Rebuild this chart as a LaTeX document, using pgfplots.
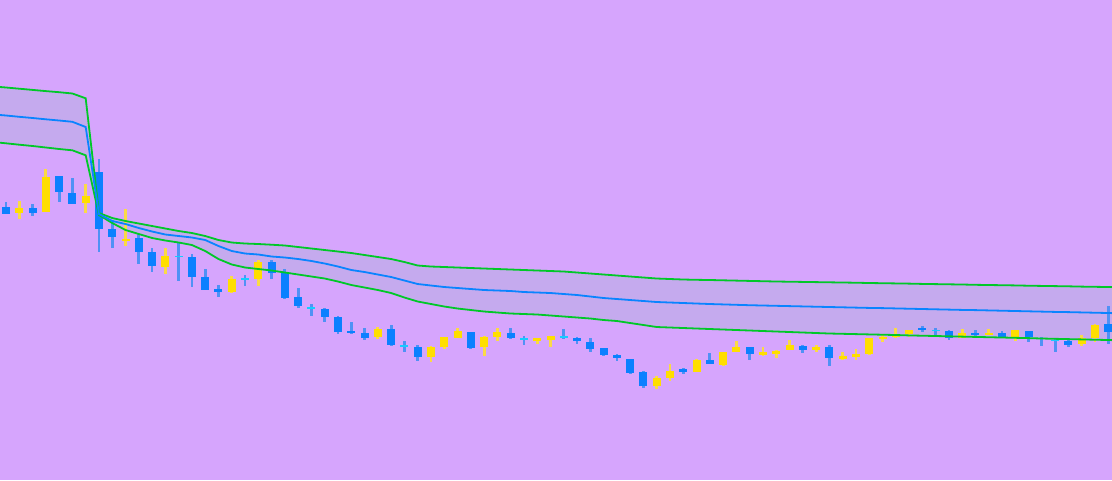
\documentclass[border=0pt]{standalone}
\usepackage{pgfplots}
\pgfplotsset{compat=1.18}
\usepackage{pgfplotstable}
\usepgfplotslibrary{fillbetween}

\definecolor{bg}{RGB}{214,165,253}
\definecolor{bandfill}{RGB}{197,170,238}
\definecolor{bandgreen}{RGB}{0,200,40}
\definecolor{midblue}{RGB}{10,132,255}
\definecolor{candleblue}{RGB}{12,128,255}
\definecolor{wickblue}{RGB}{80,145,245}
\definecolor{candleyellow}{RGB}{255,222,0}
\definecolor{wickyellow}{RGB}{250,218,70}
\definecolor{dojicyan}{RGB}{20,205,255}

% i = bar index, hi/lo = wick ends, bt/bb = body ends (screen units, downward)
\pgfplotstableread{
i hi lo bt bb
0 202 214 207 214
2 204 216 208 213
4 176 202 176 192
5 178 204 193 204
7 159 252 172 229
8 220 248 229 237
10 234 264 238 252
11 248 272 252 266
14 254 287 257 277
15 269 290 277 290
16 285 297 289 291.5
20 260 279 262 273
21 269 299 272 298
22 288 308 297 306
24 308 322 309 317
25 316 334 317 332
26 322 334 331 333
27 328 340 333 338
29 325 346 329 345
31 345 361 347 357
35 332 349 332 348
38 328 339 333 338
43 337 344 338 341
44 338 352 342 349
45 348 356 348 355
46 354 361 355 358
47 359 374 359 373
48 371 388 372 386
51 368 374 369 372
53 353 364 360 364
56 347 360 347 354
60 345 353 346 350
62 345 366 347 358
69 326 332 328 330
71 330 340 331 338
73 330 338 333 335
75 331 338 333 338
77 331 342 331 337
80 339 347 341 345
83 306 344 324 332
}\tblB

\pgfplotstableread{
i hi lo bt bb
13 242 281 256 257
18 275 286 278 280
23 304 316 307 309
30 341 352 345 347
39 336 345 338 340
42 329 339 336 338
70 328 335 330 331
78 337 346 338 339
79 338 352 340 341
}\tblC

\pgfplotstableread{
i hi lo bt bb
1 201 219 208 213
3 169 212 177 212
6 184 213 196 203
9 209 246 239 241
12 248 274 256 267
17 276 293 279 292
19 260 286 262 279
28 327 339 329 337
32 346 362 347 357
33 337 349 337 347
34 328 338 331 338
36 336 356 337 347
37 328 341 332 337
40 338 344 338 341
41 336 347 336 340
49 376 389 378 386
50 364 381 371 378
52 359 372 360 372
54 352 366 352 365
55 341 352 347 352
57 347 356 352 355
58 350 358 351 354
59 340 350 345 350
61 345 352 347 350
63 352 360 356 359
64 349 360 354 357
65 338 355 338 354
66 335 342 337 339
67 328 338 335 337
68 330 337 330 334
72 329 338 333 338
74 329 335 333 335
76 330 341 330 338
81 335 346 338 344
82 324 342 325 338
}\tblY

\pgfplotstableread{
i up mid low
-0.452 87 115 142.7
0 87.5 115.5 143.3
1 88.7 116.8 144.7
2 89.9 118 146
3 91.1 119.3 147.5
4 92.2 120.5 149
5 93.5 121.8 150.3
6 98.3 127 155.3
7 213 214 215
8 218 221 223
9 221 224 230
10 223.5 228 234
11 226 231.5 238
12 228.5 234.5 240.5
13 231 236 242.5
14 233 237.5 245
15 236 240 251
16 240 246 259
17 242.5 251 264.5
18 243.5 253.5 267.5
19 244 254.5 269
20 244.7 256.5 270.5
21 245.5 257.5 272.5
22 247 259 274.5
23 248.5 261 276.5
24 250 263.5 278.5
25 251.5 266.5 281.5
26 253 270 285
27 255 272 287.5
28 257 274.5 290
29 259 277 293
30 262 280.5 297.5
31 265.5 284 301.5
32 266.5 285.5 304
33 267 287 306.5
34 267.5 288 308.5
35 268 289 310
36 268.5 290 311.5
37 269 290.5 312.5
38 269.5 291 313.5
39 270 292 314
40 270.5 292.5 314.5
41 271 293 315.5
42 271.5 294 316.5
43 272.5 295 317.5
44 273.5 296.5 318.5
45 274.5 298 320
46 275.5 299 321
47 276.5 300 323
48 277.5 301 325
49 278.5 302 327
50 279 302.5 327.5
51 279.5 303 328
52 279.8 303.5 328.5
53 280 304 329
54 280.3 304.4 329.5
55 280.6 304.8 330
56 280.9 305.2 330.5
57 281.2 305.5 331
58 281.5 305.8 331.5
59 281.7 306.1 332
60 281.9 306.4 332.5
61 282.1 306.7 333
62 282.3 307 333.5
63 282.5 307.3 333.8
64 282.7 307.6 334.1
65 283.0 307.9 334.4
66 283.2 308.1 334.7
67 283.4 308.4 335.0
68 283.6 308.7 335.4
69 283.9 309.0 335.7
70 284.1 309.3 336.0
71 284.3 309.6 336.3
72 284.5 309.9 336.6
73 284.8 310.1 336.9
74 285.0 310.4 337.2
75 285.2 310.7 337.5
76 285.4 311.0 337.8
77 285.7 311.3 338.1
78 285.9 311.6 338.5
79 286.1 311.9 338.8
80 286.3 312.1 339.1
81 286.6 312.4 339.4
82 286.8 312.7 339.7
83 287.0 313.0 340.0
83.3 287.1 313.1 340.1
}\tblBand

\pgfplotsset{
  wick/.style={draw=none, mark=none, forget plot,
    error bars/.cd, y dir=plus, y explicit, error mark=none,
    error bar style={line width=2.8pt, draw=#1}},
  body/.style={draw=none, mark=none, forget plot,
    error bars/.cd, y dir=plus, y explicit, error mark=none,
    error bar style={line width=8pt, draw=#1}},
}

\begin{document}
\begin{tikzpicture}
\begin{axis}[
  width=1112pt, height=480pt, scale only axis,
  xmin=-0.452, xmax=83.28, ymin=0, ymax=480, y dir=reverse,
  axis lines=none, ticks=none,
  axis background/.style={fill=bg},
  clip=true,
]
% band paths
\addplot[draw=none, name path=U, forget plot] table[x=i, y=up] {\tblBand};
\addplot[draw=none, name path=L, forget plot] table[x=i, y=low] {\tblBand};
\addplot[bandfill, forget plot] fill between[of=U and L];

% wicks
\addplot[wick=wickblue] table[x=i, y=hi, y error expr=\thisrow{lo}-\thisrow{hi}] {\tblB};
\addplot[wick=wickblue] table[x=i, y=hi, y error expr=\thisrow{lo}-\thisrow{hi}] {\tblC};
\addplot[wick=wickyellow] table[x=i, y=hi, y error expr=\thisrow{lo}-\thisrow{hi}] {\tblY};

% bodies
\addplot[body=candleblue] table[x=i, y=bt, y error expr=\thisrow{bb}-\thisrow{bt}] {\tblB};
\addplot[body=dojicyan] table[x=i, y=bt, y error expr=\thisrow{bb}-\thisrow{bt}] {\tblC};
\addplot[body=candleyellow] table[x=i, y=bt, y error expr=\thisrow{bb}-\thisrow{bt}] {\tblY};

% band lines
\addplot[bandgreen, line width=1.8pt, mark=none] table[x=i, y=up] {\tblBand};
\addplot[bandgreen, line width=1.8pt, mark=none] table[x=i, y=low] {\tblBand};
\addplot[midblue, line width=1.8pt, mark=none] table[x=i, y=mid] {\tblBand};
\end{axis}
\end{tikzpicture}
\end{document}
